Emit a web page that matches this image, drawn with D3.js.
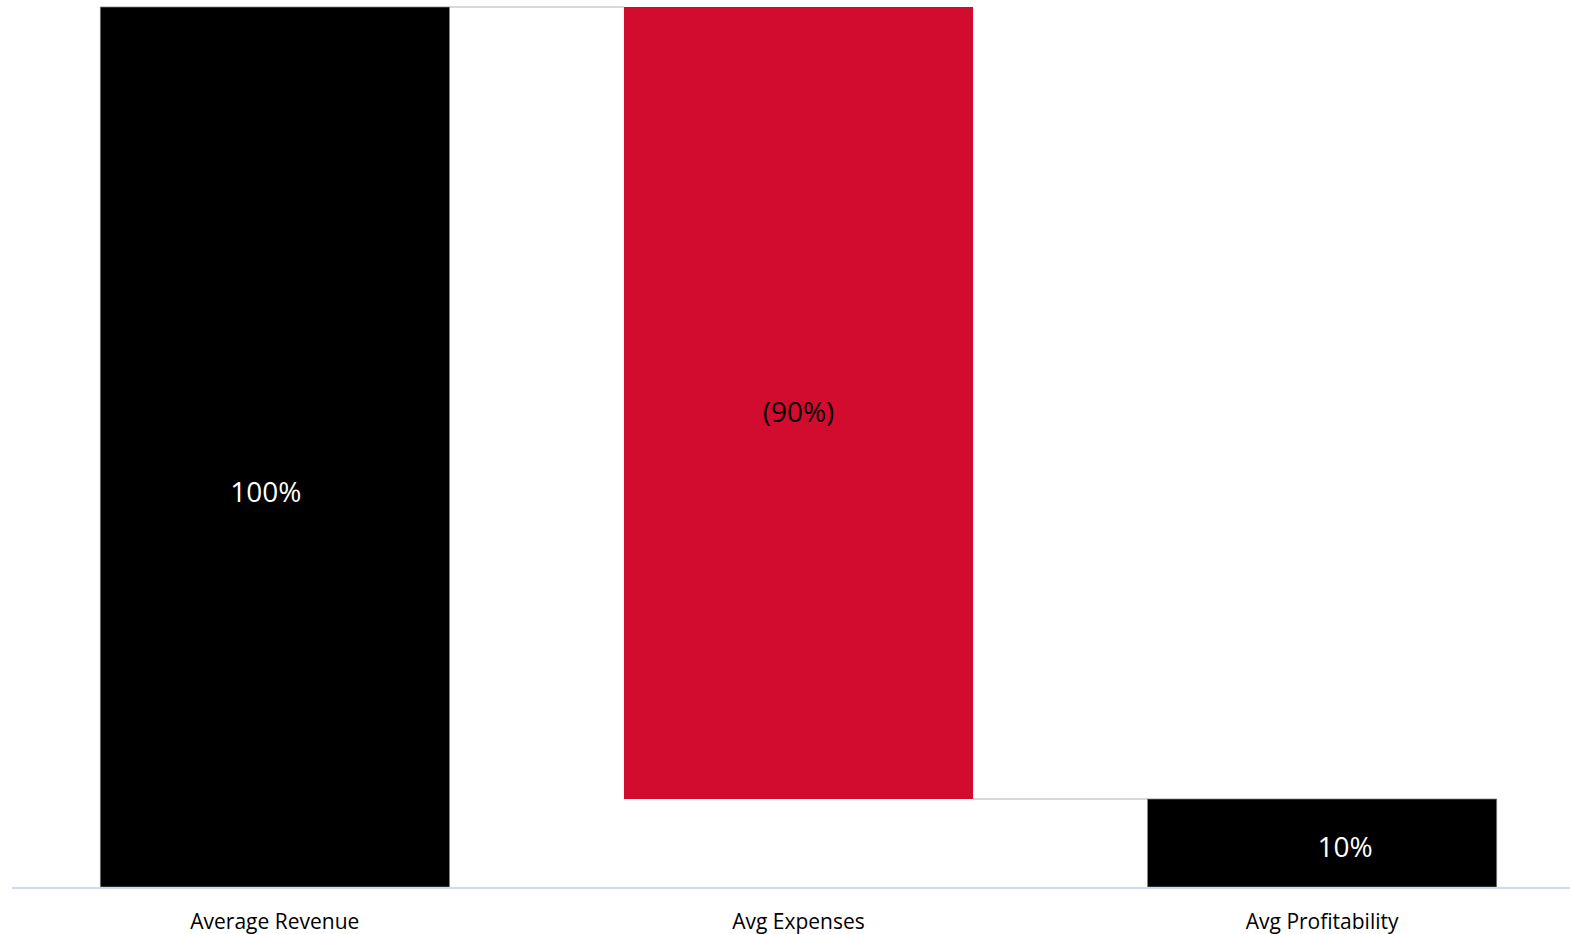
<!DOCTYPE html>
<html>
<head>
<meta charset="utf-8">
<script src="https://cdn.jsdelivr.net/npm/d3@7"></script>
<style>
  body { margin: 0; background: #fff; }
  svg text { font-family: 'Open Sans', 'Noto Sans', sans-serif; }
</style>
</head>
<body>
<div id="chart"></div>
<script>
// Waterfall values (percent of revenue)
const categories = ['Average Revenue', 'Avg Expenses', 'Avg Profitability']
const values = [100, -90, 10]
const kinds = ['total', 'delta', 'total']
const labels = ['100%', '(90%)', '10%']

const width = 1570
const height = 934

const svg = d3.select('#chart')
  .append('svg')
  .attr('width', width)
  .attr('height', height)

// build start/end for each step of the waterfall
let running = 0
const data = categories.map((c, i) => {
  let y0, y1
  if (kinds[i] === 'total') {
    y0 = 0
    y1 = values[i]
    running = values[i]
  } else {
    y0 = running
    y1 = running + values[i]
    running = y1
  }
  return { cat: c, value: values[i], kind: kinds[i], label: labels[i], y0, y1 }
})

const xScale = d3.scaleBand()
  .domain(categories)
  .range([13, 1584])
  .paddingInner(1 / 3)
  .paddingOuter(1 / 6)

const yScale = d3.scaleLinear()
  .domain([0, 100])
  .range([887, 7])

// connector lines between bars
for (let i = 0; i < data.length - 1; i++) {
  const level = data[i].y1
  svg.append('line')
    .attr('x1', xScale(data[i].cat) + xScale.bandwidth())
    .attr('x2', xScale(data[i + 1].cat))
    .attr('y1', yScale(level))
    .attr('y2', yScale(level))
    .attr('stroke', '#d9d9d9')
    .attr('stroke-width', 2)
}

// bars
svg.selectAll('.bar')
  .data(data)
  .enter()
  .append('rect')
  .attr('class', 'bar')
  .attr('x', d => xScale(d.cat))
  .attr('width', xScale.bandwidth())
  .attr('y', d => yScale(Math.max(d.y0, d.y1)))
  .attr('height', d => Math.abs(yScale(d.y0) - yScale(d.y1)))
  .attr('fill', d => d.kind === 'total' ? '#000000' : '#d10c2f')
  .attr('stroke', d => d.kind === 'total' ? '#7f7f7f' : 'none')
  .attr('stroke-width', 0.75)

// x axis line
svg.append('line')
  .attr('x1', 12)
  .attr('x2', width)
  .attr('y1', yScale(0) + 1)
  .attr('y2', yScale(0) + 1)
  .attr('stroke', '#cfd8f5')
  .attr('stroke-width', 2)

// category labels
svg.selectAll('.cat-label')
  .data(data)
  .enter()
  .append('text')
  .attr('class', 'cat-label')
  .attr('x', d => xScale(d.cat) + xScale.bandwidth() / 2)
  .attr('y', yScale(0) + 42)
  .attr('text-anchor', 'middle')
  .attr('font-size', 21)
  .attr('fill', '#000')
  .text(d => d.cat)

// value labels (Excel labels were nudged by hand)
const labelNudge = [[-9, 45], [0, 9], [23, 4]]
svg.selectAll('.val-label')
  .data(data)
  .enter()
  .append('text')
  .attr('class', 'val-label')
  .attr('x', (d, i) => xScale(d.cat) + xScale.bandwidth() / 2 + labelNudge[i][0])
  .attr('y', (d, i) => (yScale(d.y0) + yScale(d.y1)) / 2 + labelNudge[i][1])
  .attr('dy', '0.35em')
  .attr('text-anchor', 'middle')
  .attr('font-size', 28)
  .attr('fill', d => d.kind === 'total' ? '#ffffff' : '#000000')
  .text(d => d.label)
</script>
</body>
</html>
